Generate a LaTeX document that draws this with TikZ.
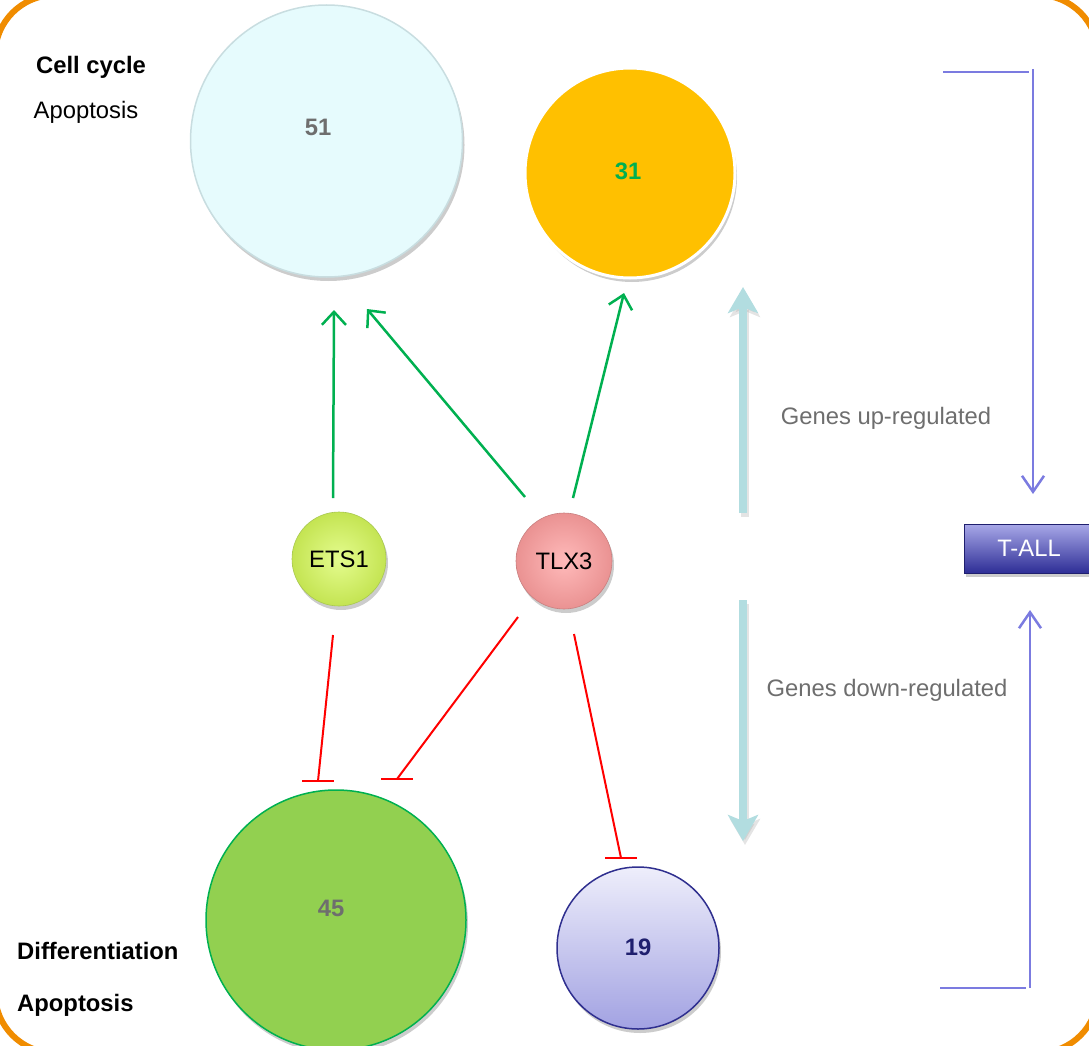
\documentclass[tikz,border=0pt]{standalone}
\usepackage{fontspec}
\setmainfont{Liberation Sans}
\usetikzlibrary{arrows.meta,shadows,calc}
\definecolor{cgreen}{HTML}{00B050}
\definecolor{cfill51}{HTML}{E6FBFD}
\definecolor{cdraw51}{HTML}{C8DDE0}
\definecolor{c31}{HTML}{FFC000}
\definecolor{c45}{HTML}{92D050}
\definecolor{c19top}{HTML}{EEEEFB}
\definecolor{c19bot}{HTML}{A2A2E2}
\definecolor{c19d}{HTML}{2F2F8F}
\definecolor{cnavy}{HTML}{1F1F6E}
\definecolor{cblue}{HTML}{7B7BE0}
\definecolor{cteal}{HTML}{B2DDE0}
\definecolor{cgrey}{HTML}{6E6E6E}
\definecolor{corange}{HTML}{F08C00}
\definecolor{cred}{HTML}{FF0000}
\definecolor{etsin}{HTML}{E4FC8E}
\definecolor{etsout}{HTML}{C4E452}
\definecolor{etsd}{HTML}{A8C850}
\definecolor{tlxin}{HTML}{FFBABA}
\definecolor{tlxout}{HTML}{EA9292}
\definecolor{tlxd}{HTML}{C88080}
\definecolor{talltop}{HTML}{A8A8E8}
\definecolor{tallbot}{HTML}{2E2E96}
\begin{document}
\begin{tikzpicture}[x=1pt,y=-1pt,
  font=\fontsize{23.8}{28}\selectfont,
  bigc/.style={circle, inner sep=0pt, line width=1.5pt},
  softshadow/.style={drop shadow={shadow xshift=2pt, shadow yshift=-4pt, opacity=0.2, fill=black}},
  num/.style={font=\fontsize{23.8}{28}\selectfont\bfseries},
  garrow/.style={draw=cgreen, line width=2.5pt, -{Straight Barb[length=13pt,width=24pt]}},
  inh/.style={draw=cred, line width=2pt},
  barh/.style={draw=cred, line width=2pt},
  bline/.style={draw=cblue, line width=2.5pt},
  barrow/.style={draw=cblue, line width=2.5pt, -{Straight Barb[length=16pt,width=22pt]}},
  tarrow/.style={draw=cteal, line width=8pt, -{Stealth[length=26pt,width=30pt,inset=6pt]}},
  tshadow/.style={draw=black!35, opacity=0.3, line width=8pt, -{Stealth[length=26pt,width=30pt,inset=6pt]}},
  lbl/.style={inner sep=0pt}
]
\useasboundingbox (0,0) rectangle (1089,1046);
% frame
\draw[corange, line width=6pt, rounded corners=60pt] (-5,-5) rectangle (1098,1053);

% big circles
\node[bigc, minimum size=272pt, fill=cfill51, draw=cdraw51, softshadow] (c51) at (326.5,141) {};
\node[bigc, minimum size=210pt, fill=c31, draw=white, line width=3pt, softshadow] (c31) at (630,173) {};
\node[bigc, minimum size=260pt, fill=c45, draw=cgreen, softshadow] (c45) at (336,920) {};
\node[bigc, minimum size=162pt, top color=c19top, bottom color=c19bot, draw=c19d, softshadow] (c19) at (638,948) {};

\node[num, text=cgrey] (n51) at (318,127) {51};
\node[num, text=cgreen] (n31) at (628,171) {31};
\node[num, text=cgrey] (n45) at (331,908) {45};
\node[num, text=cnavy] (n19) at (638,947) {19};

% regulators
\node[bigc, minimum size=94pt, inner color=etsin, outer color=etsout, draw=etsd, line width=0.6pt, softshadow] (ets1) at (339,559) {ETS1};
\node[bigc, minimum size=96pt, inner color=tlxin, outer color=tlxout, draw=tlxd, line width=0.6pt, softshadow] (tlx3) at (564,561) {TLX3};

% T-ALL box
\node[rectangle, minimum width=130pt, minimum height=49pt, top color=talltop, bottom color=tallbot, draw=cnavy, line width=1pt, text=white, softshadow] (tall) at (1029,548.5) {T-ALL};

% side texts
\node[lbl, font=\fontsize{23.8}{28}\selectfont\bfseries] (tcc) at (91,67) {Cell cycle};
\node[lbl] (tap1) at (86,112) {Apoptosis};
\node[lbl, anchor=west, font=\fontsize{23.8}{28}\selectfont\bfseries] (tdiff) at (17,951) {Differentiation};
\node[lbl, anchor=west, font=\fontsize{23.8}{28}\selectfont\bfseries] (tap2) at (17,1005) {Apoptosis};
\node[lbl, text=cgrey] (tup) at (886,418) {Genes up-regulated};
\node[lbl, text=cgrey] (tdown) at (887,690) {Genes down-regulated};

% coordinates for connector ends
\coordinate (g1s) at (333,498); \coordinate (g1e) at (334,310);
\coordinate (g2s) at (525,497); \coordinate (g2e) at (367,309);
\coordinate (g3s) at (573,498); \coordinate (g3e) at (624,293);
\coordinate (r1s) at (333,635); \coordinate (r1e) at (318,781);
\coordinate (r2s) at (518,617); \coordinate (r2e) at (397,779);
\coordinate (r3s) at (574,634); \coordinate (r3e) at (621,858);
\coordinate (us) at (743,513); \coordinate (ue) at (743,287);
\coordinate (ds) at (743,600); \coordinate (de) at (743,841);
\coordinate (tb1) at (943,72); \coordinate (tb2) at (1033,72); \coordinate (tin) at (1033,494);
\coordinate (bb1) at (940,988); \coordinate (bb2) at (1030,988); \coordinate (bin) at (1030,610);

% activation arrows
\draw[garrow] (g1s) -- (g1e);
\draw[garrow] (g2s) -- (g2e);
\draw[garrow] (g3s) -- (g3e);

% inhibition
\draw[inh] (r1s) -- (r1e);
\draw[barh] ($(r1e)+(-16,0)$) -- ($(r1e)+(16,0)$);
\draw[inh] (r2s) -- (r2e);
\draw[barh] ($(r2e)+(-16,0)$) -- ($(r2e)+(16,0)$);
\draw[inh] (r3s) -- (r3e);
\draw[barh] ($(r3e)+(-16,0)$) -- ($(r3e)+(16,0)$);

% teal arrows
\draw[tshadow] ($(us)+(2,4)$) -- ($(ue)+(2,4)$);
\draw[tarrow] (us) -- (ue);
\draw[tshadow] ($(ds)+(2,4)$) -- ($(de)+(2,4)$);
\draw[tarrow] (ds) -- (de);

% blue brackets
\draw[bline] (tb1) -- ($(tb2)+(-4,0)$);
\draw[barrow] ($(tb2)+(0,-3)$) -- (tin);
\draw[bline] (bb1) -- ($(bb2)+(-4,0)$);
\draw[barrow] (bb2) -- (bin);
\end{tikzpicture}
\end{document}
